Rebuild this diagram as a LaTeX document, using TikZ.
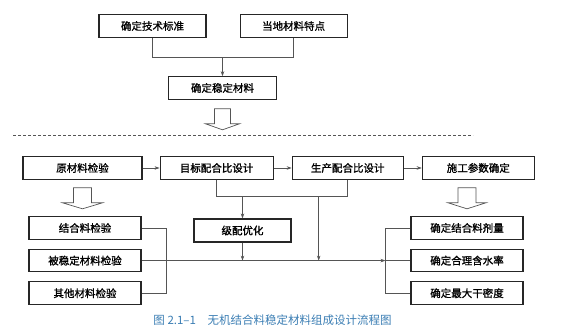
\documentclass[tikz,border=0pt]{standalone}
\usepackage{fontspec}
\usepackage{xcolor}
\usepackage{tikz}
\usetikzlibrary{arrows.meta,positioning,calc}
\newfontfamily\cjk{Noto Sans CJK SC}
\newfontfamily\cjkbox{Noto Sans CJK SC}[FakeBold=1.2]
\definecolor{bk90}{HTML}{262626}
\definecolor{bk70}{HTML}{555555}
\definecolor{bk50}{HTML}{8A8A8A}
\definecolor{capblue}{HTML}{3A7DB3}
\tikzset{
  stepbox/.style={
    rectangle, draw=bk90, fill=white, line width=1.1pt,
    minimum width=112pt, minimum height=22.5pt,
    font=\cjkbox\fontsize{10.5pt}{12pt}\selectfont, align=center,
    inner sep=2pt
  },
  dataarrow/.style={
    -{Stealth[length=5pt,width=3.5pt]}, line width=0.6pt, color=#1
  },
  dataarrow/.default=bk70,
  link/.style={
    line width=0.6pt, color=bk70
  },
  hollow/.style={
    draw=bk70, fill=white, line width=0.7pt, line join=miter
  },
  captionnode/.style={
    font=\cjk\fontsize{11.5pt}{13pt}\selectfont, text=capblue
  },
}
\begin{document}
\begin{tikzpicture}[x=1pt, y=-1pt]
\useasboundingbox (0,0) rectangle (587,336);

% TOP: choose the stabilised material
\node[stepbox, minimum width=107pt] (std) at (152.5,26) {确定技术标准};
\node[stepbox, minimum width=107pt, right=33pt of std] (local) {当地材料特点};
\node[stepbox, minimum width=108pt] (stab) at (222.5,88) {确定稳定材料};

\draw[link] (std.south) -- ++(0,20) coordinate (j1) -| (local.south);
\draw[dataarrow] (j1 -| stab.north) -- (stab.north);

% big hollow arrow
\coordinate[below=9pt of stab] (h1);
\draw[hollow] (h1) ++(-8,0) -- ++(0,15) -- ++(-9,0) -- ++(17,6) -- ++(17,-6)
  -- ++(-9,0) -- ++(0,-15) -- cycle;

% SEPARATOR
\draw[dashed, dash pattern=on 3pt off 2pt, bk70, line width=0.6pt] (13,135) -- (473,135);

% BOTTOM: design steps
\node[stepbox, minimum width=119pt] (raw) at (82.5,168) {原材料检验};
\node[stepbox, minimum width=113pt, right=17pt of raw] (target) {目标配合比设计};
\node[stepbox, minimum width=111pt, right=18pt of target] (prod) {生产配合比设计};
\node[stepbox, right=18pt of prod] (cons) {施工参数确定};

\draw[dataarrow] (raw) -- (target);
\draw[dataarrow] (target) -- (prod);
\draw[dataarrow] (prod) -- (cons);

% material tests
\node[stepbox] (bind) at (85,228) {结合料检验};
\node[stepbox, below=9pt of bind] (subs) {被稳定材料检验};
\node[stepbox, below=9pt of subs] (other) {其他材料检验};

% construction parameters
\node[stepbox] (dose) at (467,228) {确定结合料剂量};
\node[stepbox, below=9pt of dose] (water) {确定合理含水率};
\node[stepbox, below=9pt of water] (dens) {确定最大干密度};

% grading
\node[stepbox, minimum width=97pt, minimum height=23pt] (grad) at (242.5,230.5) {级配优化};

% hollow arrows
\coordinate (h2) at ([yshift=-8pt]raw.south);
\draw[hollow] (h2) ++(-9,0) -- ++(0,15) -- ++(-11,0) -- ++(20,6) -- ++(20,-6)
  -- ++(-11,0) -- ++(0,-15) -- cycle;
\coordinate (h3) at ([yshift=-8pt]cons.south -| dose.north);
\draw[hollow] (h3) ++(-9,0) -- ++(0,15) -- ++(-10,0) -- ++(19,6) -- ++(19,-6)
  -- ++(-10,0) -- ++(0,-15) -- cycle;

% mix design links
\draw[link] (target.south) -- ++(0,17) coordinate (j2) -| (prod.south);
\draw[dataarrow] (j2 -| grad.north) -- (grad.north);
\coordinate (j3) at ([xshift=-29pt]j2 -| prod.south);
\coordinate (rbr) at ([xshift=-25pt]water.west);
\draw[dataarrow] (grad.south) -- (grad.south |- subs.east);
\draw[dataarrow] (j3) -- (j3 |- subs.east);

% brackets
\draw[link] (bind.east) -- ++(25pt,0) |- (other.east);
\draw[dataarrow] (subs.east) -- (rbr);
\draw[link] (rbr) -- (water.west);
\draw[link] (dose.west) -- ++(-25pt,0) |- (dens.west);

% Caption
\node[captionnode] (caption) at (272.5,320) {图 2.1–1\hspace{1em}无机结合料稳定材料组成设计流程图};

\end{tikzpicture}
\end{document}
